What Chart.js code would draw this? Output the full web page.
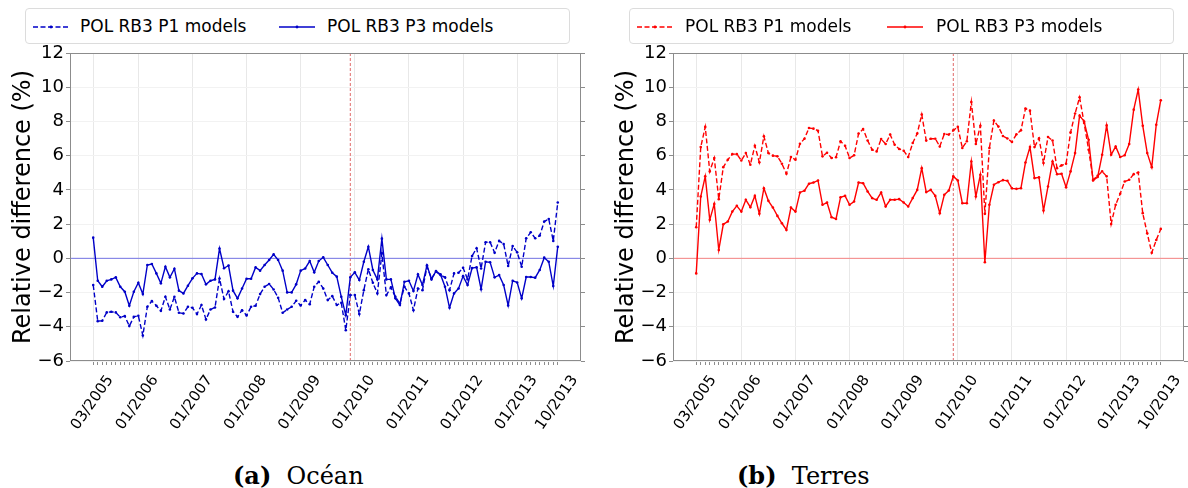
<!DOCTYPE html>
<html>
<head>
<meta charset="utf-8">
<script src="https://cdn.jsdelivr.net/npm/chart.js@4.4.1/dist/chart.umd.min.js"></script>
<style>
  body { margin: 0; background: #fff; width: 1188px; height: 488px; position: relative; overflow: hidden; font-family: 'DejaVu Sans', sans-serif; }
  canvas.panel { position: absolute; top: 0; }
  .legend { position: absolute; top: 8px; width: 545px; height: 36px; box-sizing: border-box; border: 1px solid #dcdcdc; border-radius: 4px; background: #fff; font-size: 17px; color: #000; }
  .legend svg, .legend span { position: absolute; }
  .legend svg { top: 16px; }
  .legend span { top: 7px; line-height: 20px; white-space: nowrap; }
  .caption { position: absolute; top: 462px; font-family: 'DejaVu Serif', serif; font-size: 24px; line-height: 28px; white-space: nowrap; color: #000; }
</style>
</head>
<body>
<canvas id="ocean" class="panel" width="585" height="440" style="left:0"></canvas>
<canvas id="land" class="panel" width="585" height="440" style="left:603px"></canvas>

<div class="legend" style="left:25px">
  <svg width="36" height="4" style="left:7px"><line x1="0" y1="2" x2="36" y2="2" stroke="#0000c8" stroke-width="1.4" stroke-dasharray="5,2.5"/><circle cx="18" cy="2" r="1.4" fill="#0000c8"/></svg>
  <span style="left:54px">POL RB3 P1 models</span>
  <svg width="36" height="4" style="left:253px"><line x1="0" y1="2" x2="36" y2="2" stroke="#0000c8" stroke-width="1.4"/><circle cx="18" cy="2" r="1.4" fill="#0000c8"/></svg>
  <span style="left:301px">POL RB3 P3 models</span>
</div>
<div class="legend" style="left:629px">
  <svg width="36" height="4" style="left:7px"><line x1="0" y1="2" x2="36" y2="2" stroke="#ff0000" stroke-width="1.4" stroke-dasharray="5,2.5"/><circle cx="18" cy="2" r="1.4" fill="#ff0000"/></svg>
  <span style="left:55px">POL RB3 P1 models</span>
  <svg width="36" height="4" style="left:257px"><line x1="0" y1="2" x2="36" y2="2" stroke="#ff0000" stroke-width="1.4"/><circle cx="18" cy="2" r="1.4" fill="#ff0000"/></svg>
  <span style="left:306px">POL RB3 P3 models</span>
</div>

<div class="caption" style="left:233px"><b>(a)</b>&nbsp; Océan</div>
<div class="caption" style="left:737px"><b>(b)</b>&nbsp; Terres</div>

<script>
// monthly steps, 03/2005 .. 10/2013
const months = [];
for (let k = 2005 * 12 + 2; k <= 2013 * 12 + 9; k++) {
  months.push(String(k % 12 + 1).padStart(2, '0') + '/' + Math.floor(k / 12));
}
const tickLabels = ['03/2005', '01/2006', '01/2007', '01/2008', '01/2009', '01/2010', '01/2011', '01/2012', '01/2013', '10/2013'];
const yTicks = [-6, -4, -2, 0, 2, 4, 6, 8, 10, 12];
const breakMonth = '12/2009';

// relative difference (%) over ocean
const oceanP1 = [
  -1.56, -3.67, -3.65, -3.16, -3.12, -3.16, -3.44, -3.38, -3.96, -3.42,
  -3.36, -4.51, -2.83, -2.50, -2.77, -3.07, -2.25, -2.99, -2.25, -3.18,
  -3.22, -2.83, -2.89, -3.26, -2.73, -3.57, -2.99, -2.87, -1.18, -2.38,
  -1.92, -3.12, -3.42, -3.03, -3.34, -2.83, -2.77, -2.09, -1.66, -1.50,
  -1.82, -2.30, -3.18, -2.99, -2.83, -2.48, -2.75, -2.44, -2.68, -1.66,
  -1.37, -1.76, -2.44, -2.21, -2.73, -2.60, -4.20, -2.15, -2.15, -3.26,
  -1.86, -0.64, -1.43, -2.05, 0.29, -2.15, -1.70, -2.25, -2.64, -1.66,
  -2.05, -3.03, -1.76, -1.86, -0.49, -1.17, -0.78, -0.98, -1.11, -1.86,
  -0.88, -0.84, -0.55, -1.23, 0.14, 0.59, -0.59, 0.94, 0.94, 0.33,
  1.02, 0.84, -0.45, 0.72, 0.35, -0.49, 1.17, 1.52, 1.17, 1.33,
  2.15, 2.30, 1.02, 3.26
];
const oceanP3 = [
  1.21, -1.31, -1.66, -1.31, -1.23, -1.11, -1.66, -1.95, -2.77, -1.95,
  -1.43, -2.09, -0.39, -0.33, -0.88, -1.46, -0.49, -1.11, -0.61, -1.89,
  -2.05, -1.60, -1.17, -0.88, -0.92, -1.52, -1.31, -1.23, 0.57, -0.58,
  -0.42, -1.89, -2.34, -1.76, -1.19, -1.19, -0.53, -0.72, -0.39, -0.10,
  0.23, -0.10, -0.72, -1.99, -1.99, -1.52, -0.72, -0.59, -0.16, -0.82,
  -0.16, 0.06, -0.39, -0.84, -1.07, -2.25, -3.32, -1.11, -0.82, -1.27,
  -0.20, 0.68, -0.68, -1.23, 1.15, -1.23, -1.23, -2.34, -2.73, -1.37,
  -1.31, -1.91, -0.94, -1.56, -0.41, -1.23, -0.74, -0.94, -1.66, -2.89,
  -2.05, -1.76, -1.04, -1.56, -0.57, -0.53, -1.80, -0.20, -0.23, -1.11,
  -0.98, -1.56, -2.75, -1.31, -1.41, -2.34, -1.09, -1.09, -1.13, -0.68,
  0.04, -0.20, -1.62, 0.68
];

// relative difference (%) over land
const landP1 = [
  1.82, 6.50, 7.68, 5.08, 5.86, 3.46, 5.33, 5.76, 6.09, 6.09,
  5.72, 6.15, 5.47, 6.58, 5.61, 7.13, 6.15, 6.00, 5.96, 5.53,
  4.94, 5.92, 5.76, 6.70, 6.99, 7.62, 7.58, 7.46, 5.96, 6.17,
  5.86, 5.91, 6.84, 6.58, 5.86, 6.02, 7.29, 7.56, 6.89, 6.35,
  6.25, 6.97, 6.68, 7.23, 6.64, 6.39, 6.29, 5.92, 6.74, 7.29,
  8.40, 6.88, 6.99, 6.99, 6.54, 7.27, 7.23, 7.48, 7.68, 6.45,
  6.84, 9.14, 6.68, 7.75, 2.60, 6.45, 8.05, 7.70, 7.15, 7.00,
  6.80, 7.25, 7.48, 8.75, 8.63, 6.50, 7.01, 5.57, 7.09, 6.89,
  5.27, 5.43, 5.53, 7.36, 8.46, 9.41, 7.91, 6.35, 4.59, 4.82,
  5.08, 4.79, 2.01, 3.13, 3.77, 4.49, 4.59, 4.92, 5.02, 2.64,
  1.46, 0.33, 1.07, 1.72
];
const landP3 = [
  -0.88, 3.61, 4.79, 2.25, 3.18, 0.49, 1.99, 2.15, 2.73, 3.07,
  2.73, 3.42, 2.99, 3.65, 2.60, 4.10, 3.36, 2.97, 2.48, 2.05,
  1.66, 2.97, 2.73, 3.85, 3.95, 4.36, 4.43, 4.55, 3.13, 3.26,
  2.40, 2.30, 3.57, 3.65, 3.13, 3.32, 4.43, 4.39, 3.91, 3.52,
  3.42, 3.85, 3.03, 3.42, 3.42, 3.46, 3.26, 3.03, 3.52, 4.00,
  5.27, 3.87, 4.00, 3.65, 2.64, 3.71, 3.96, 4.79, 4.55, 3.22,
  3.22, 5.66, 3.61, 4.88, -0.23, 3.13, 4.30, 4.45, 4.57, 4.53,
  4.09, 4.06, 4.10, 5.60, 6.50, 4.69, 4.73, 2.79, 4.20, 5.66,
  4.92, 4.94, 4.16, 5.08, 6.15, 8.34, 8.00, 6.93, 4.55, 4.75,
  6.05, 7.77, 6.05, 6.54, 5.92, 6.02, 6.68, 8.69, 9.86, 7.75,
  6.15, 5.33, 7.81, 9.24
];

Chart.defaults.font.family = "'DejaVu Sans', sans-serif";
Chart.defaults.color = '#000';

const xMin = -0.05 * (months.length - 1);
const xMax = (months.length - 1) * 1.05;
const labelAt = {};
tickLabels.forEach(t => { labelAt[months.indexOf(t)] = t; });
const fmtY = v => (v < 0 ? '\u2212' + Math.abs(v) : String(v));

// outline of the plotting area
const frame = {
  id: 'frame',
  afterDraw(chart) {
    const { ctx, chartArea: a } = chart;
    ctx.save();
    ctx.strokeStyle = '#8c8c8c';
    ctx.lineWidth = 1;
    ctx.strokeRect(Math.round(a.left) + 0.5, Math.round(a.top) + 0.5, Math.round(a.right - a.left) - 1, Math.round(a.bottom - a.top) - 1);
    ctx.restore();
  }
};

function drawPanel(id, p1, p3, color, refColor) {
  const pts = arr => arr.map((v, i) => ({ x: i, y: v }));
  const b = months.indexOf(breakMonth);
  const series = (label, arr, dash) => ({
    label, data: pts(arr), borderColor: color, backgroundColor: color,
    borderWidth: 1.4, borderDash: dash, pointRadius: 1.3, pointBorderWidth: 0,
    pointBackgroundColor: color, tension: 0
  });

  new Chart(document.getElementById(id), {
    type: 'line',
    data: {
      datasets: [
        series('POL RB3 P1 models', p1, [5, 2.5]),
        series('POL RB3 P3 models', p3, []),
        { data: [{ x: xMin, y: 0 }, { x: xMax, y: 0 }], borderColor: refColor, borderWidth: 1, pointRadius: 0 },
        { data: [{ x: b, y: yTicks[0] }, { x: b, y: yTicks[yTicks.length - 1] }], borderColor: '#e06a6a', borderWidth: 1, borderDash: [3, 2], pointRadius: 0 }
      ]
    },
    options: {
      responsive: false, animation: false, devicePixelRatio: 1,
      layout: { padding: { top: 53, left: 0, right: 0, bottom: 0 } },
      plugins: { legend: { display: false }, tooltip: { enabled: false } },
      scales: {
        x: {
          type: 'linear', min: xMin, max: xMax,
          afterBuildTicks: s => { s.ticks = months.map((_, i) => ({ value: i })); },
          afterFit: s => { s.height = 79; },
          ticks: {
            autoSkip: false, minRotation: 55, maxRotation: 55, labelOffset: 17, padding: 7,
            font: { size: 15 }, color: '#000',
            callback: v => labelAt[v] || ''
          },
          grid: {
            color: c => (c.tick && labelAt[c.tick.value] ? '#e8e8e8' : 'rgba(0,0,0,0)'),
            tickColor: '#8c8c8c', tickLength: 4
          },
          border: { display: false }
        },
        y: {
          min: yTicks[0], max: yTicks[yTicks.length - 1],
          afterBuildTicks: s => { s.ticks = yTicks.map(v => ({ value: v })); },
          afterFit: s => { s.width = 70; },
          ticks: { font: { size: 18 }, color: '#000', padding: 2, callback: fmtY },
          grid: { color: '#f2f2f2', tickColor: '#8c8c8c', tickLength: 4 },
          border: { display: false },
          title: { display: true, text: 'Relative difference (%)', font: { size: 24 }, color: '#000', padding: { top: 9, bottom: 0 } }
        },
        y2: {
          position: 'right', min: yTicks[0], max: yTicks[yTicks.length - 1],
          afterBuildTicks: s => { s.ticks = yTicks.map(v => ({ value: v })); },
          afterFit: s => { s.width = 4; },
          ticks: { display: false },
          grid: { drawOnChartArea: false, color: '#8c8c8c', tickLength: 4 },
          border: { display: false }
        }
      }
    },
    plugins: [frame]
  });
}

drawPanel('ocean', oceanP1, oceanP3, '#0000c8', '#7474e4');
drawPanel('land', landP1, landP3, '#ff0000', '#f58282');
</script>
</body>
</html>
